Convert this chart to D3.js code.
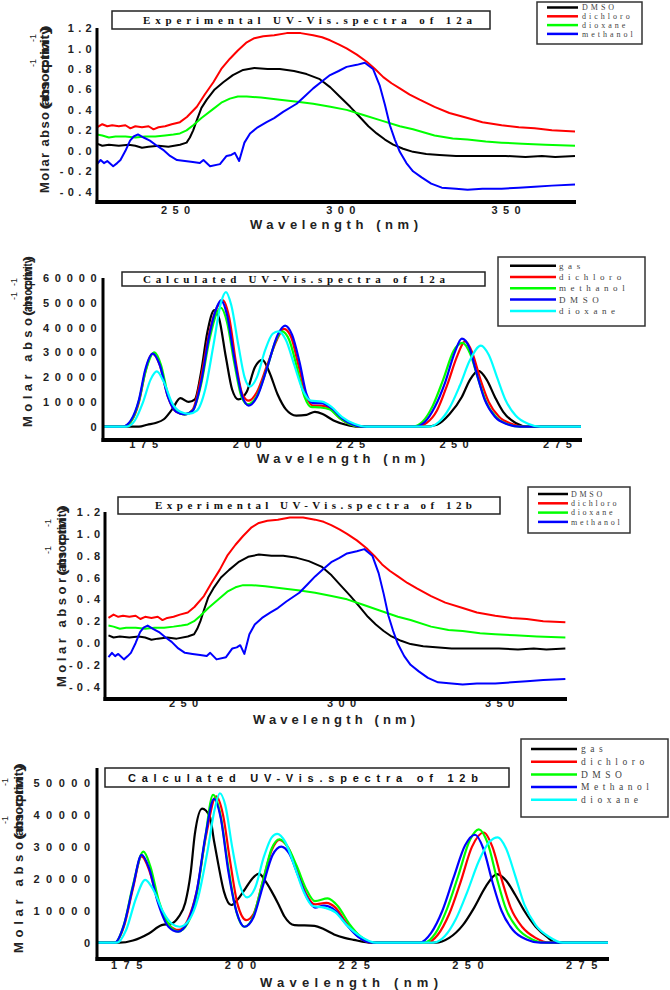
<!DOCTYPE html>
<html>
<head>
<meta charset="utf-8">
<script src="https://cdn.jsdelivr.net/npm/d3@7"></script>
<style>
  body { margin: 0; background: #fff; }
</style>
</head>
<body>
<div id="chart"></div>
<script>
// ---- experimental spectra (same measurement shown for 12a and 12b) ----
var expDMSO = [[226.4,0.07],[228,0.05],[230,0.06],[233,0.05],[236,0.06],[238,0.05],[240,0.03],[242,0.04],[245,0.05],[248,0.04],[251.5,0.06],[253.5,0.08],[254.5,0.13],[255.5,0.2],[256.6,0.3],[258,0.42],[259.6,0.5],[262,0.6],[264.6,0.67],[267.5,0.74],[270.6,0.79],[274,0.81],[278,0.8],[281.7,0.8],[286,0.78],[289.8,0.75],[293.8,0.7],[297,0.62],[299.8,0.53],[303,0.43],[305.9,0.33],[308.5,0.24],[311,0.17],[313.5,0.11],[316,0.06],[319,0.02],[322,-0.01],[326,-0.03],[330,-0.04],[335,-0.05],[342,-0.05],[350,-0.05],[356,-0.06],[361,-0.05],[365,-0.06],[371,-0.05]];
var expDichloro = [[226.4,0.23],[228,0.26],[229.5,0.24],[231,0.25],[233,0.24],[235,0.25],[236.5,0.22],[238,0.24],[240,0.23],[242,0.24],[243.5,0.21],[245,0.23],[247,0.24],[249,0.26],[251.5,0.28],[253.6,0.33],[256.6,0.43],[259,0.55],[261.6,0.67],[264,0.8],[266.6,0.9],[269,0.98],[271.7,1.06],[274,1.1],[276.7,1.12],[280,1.13],[283.8,1.15],[288,1.15],[291.8,1.13],[294.5,1.11],[296.9,1.08],[299.5,1.04],[301.9,1.0],[305,0.94],[308,0.87],[310.5,0.8],[313,0.72],[315.5,0.66],[318,0.61],[321,0.55],[324,0.5],[328.5,0.43],[333,0.37],[338.5,0.32],[343,0.28],[348.8,0.25],[354,0.23],[358.8,0.22],[364,0.2],[371,0.19]];
var expDioxane = [[226.4,0.16],[228,0.15],[230,0.13],[232,0.14],[235,0.14],[238,0.13],[241,0.14],[244,0.14],[247,0.15],[249.5,0.16],[251.5,0.17],[253.5,0.2],[255.5,0.25],[258,0.32],[261.6,0.41],[264,0.47],[266.6,0.51],[269,0.53],[271.7,0.53],[276,0.52],[281.7,0.5],[287,0.48],[291.8,0.46],[297,0.43],[301.9,0.4],[307,0.35],[312,0.3],[318,0.24],[322,0.21],[328.5,0.15],[334,0.12],[338.5,0.11],[344,0.09],[348.8,0.08],[355,0.07],[362,0.06],[371,0.05]];
var expMethanol = [[226.4,-0.13],[227.5,-0.09],[228.5,-0.12],[229.5,-0.1],[231.3,-0.15],[232.5,-0.12],[233.5,-0.09],[235,0.0],[236.4,0.1],[237.5,0.14],[238.8,0.16],[240.5,0.13],[242.4,0.1],[244.5,0.05],[246.4,0.01],[248.5,-0.05],[250.6,-0.09],[253,-0.1],[255.4,-0.11],[257.5,-0.12],[258.6,-0.09],[260.6,-0.15],[263.6,-0.13],[265.6,-0.05],[267,-0.04],[268.1,-0.02],[269.4,-0.1],[271,0.08],[272.7,0.17],[275,0.23],[277.7,0.28],[280,0.32],[282.7,0.38],[286.8,0.46],[289.5,0.54],[291.8,0.61],[294.5,0.68],[296.9,0.74],[299.5,0.78],[301.9,0.82],[305,0.84],[307.4,0.86],[309.9,0.8],[311.9,0.64],[313.5,0.45],[315,0.25],[316.5,0.11],[318,-0.01],[320,-0.12],[322,-0.2],[324.6,-0.26],[327.5,-0.32],[330.7,-0.36],[335,-0.37],[338.5,-0.38],[343,-0.37],[348.8,-0.37],[354,-0.36],[358.8,-0.35],[364,-0.34],[371,-0.33]];

// ---- calculated spectra 12a ----
var calcGas12a = [[165.3,0],[174,0],[176,800],[178,1500],[180,3000],[182,7000],[184,11500],[186,10000],[187.5,11000],[189,22000],[190.5,38000],[192.2,47000],[193.3,44000],[195,28000],[196.5,15000],[198,11000],[200,14000],[202,24000],[203.8,27000],[205.5,22000],[207.5,13000],[209.5,7000],[212,4500],[214.5,4800],[216.5,6000],[218.5,5000],[221,2500],[224,800],[227,0],[243,0],[246,800],[249,5000],[252,12000],[254,19000],[256,22500],[258,19000],[260,12000],[262,6000],[265,1500],[268,0],[280.8,0]];
var calcDichloro12a = [[165.3,0],[170,0],[172,2000],[174,10000],[175.5,22000],[177.3,29500],[179,25000],[181,12000],[183,6000],[185,5000],[187,7000],[189,20000],[191,38000],[192.8,48000],[194.3,51000],[195.8,44000],[197.5,25000],[199,13000],[200.5,10500],[202.5,14000],[205,25000],[207.3,35000],[209,39500],[210.8,36000],[212.5,25000],[214.5,12000],[216,8500],[218,8500],[220,7500],[222.5,3500],[225,1000],[227.5,0],[241,0],[243.5,1500],[246,6500],[248.5,17000],[251,29000],[252.8,34500],[254.5,30000],[256.5,19000],[258.5,10000],[261,4000],[264,1200],[267,0],[280.8,0]];
var calcMethanol12a = [[165.3,0],[170,0],[172,2000],[174,10500],[175.7,23000],[177.7,30000],[179.3,25000],[181,13000],[183,6500],[185,5000],[187,6500],[189,17000],[191,35000],[192.8,46000],[193.8,48000],[195.3,42000],[197,26000],[198.8,12000],[200.3,9000],[202.5,12500],[205,24000],[207,34500],[208.5,38500],[210.3,35000],[212,25000],[214,12000],[215.5,8000],[217.5,7800],[220,7000],[222.5,3500],[225,1000],[227.5,0],[240,0],[242.5,2000],[245,8500],[247.5,19000],[250,30500],[252.2,33800],[254,29500],[256,19000],[258,9500],[260.5,3500],[263.5,800],[266,0],[280.8,0]];
var calcDMSO12a = [[165.3,0],[170,0],[172,2500],[174,11000],[175.5,23000],[177.3,29500],[179,25000],[181,12000],[183,6000],[185,5000],[187,6500],[189,18000],[191,37000],[193,49000],[193.8,51000],[195.3,45000],[197,28000],[199,12000],[200.5,8500],[202.5,12000],[205,24000],[207.5,37000],[209.3,40800],[211,37000],[212.8,26000],[214.5,13000],[216,9500],[218,9500],[220.5,7500],[223,3500],[225.5,1000],[228,0],[240.5,0],[243,1800],[245.5,8000],[248,18000],[250.3,30000],[252,35500],[253.8,32000],[255.5,22000],[257.5,11000],[260,4000],[263,1000],[266,0],[280.8,0]];
var calcDioxane12a = [[165.3,0],[171,0],[173,2500],[175,10000],[176.8,19000],[178.3,22300],[180,18000],[182,9500],[184,6000],[186,5200],[188,6500],[190,15000],[192,33000],[193.8,50000],[195,54300],[196.3,49000],[198,33000],[199.5,20000],[200.8,16200],[202.5,20000],[204.5,31000],[206.3,37500],[207.7,38500],[209.5,35000],[211.5,25000],[213.5,15000],[215.5,10500],[218.2,10100],[220.5,8000],[223,4000],[226,1200],[229,0],[244,0],[246.5,2000],[249,7500],[251.5,16500],[254,27000],[256.6,32700],[258.5,29000],[260.5,20000],[262.5,11000],[265,4500],[268,1200],[271,0],[280.8,0]];

// ---- calculated spectra 12b ----
var calcGas12b = [[168.6,0],[173.5,0],[176.5,700],[180,2900],[182.8,5500],[185,6000],[186.5,8000],[188,12500],[189.2,22000],[190.1,34000],[191.7,42000],[193.4,39500],[194.3,32000],[195.2,25000],[196.5,16000],[198.1,11800],[199.5,13500],[201,16500],[203,20500],[204.2,21600],[205.5,19500],[207,16000],[208.5,12000],[209.8,8200],[212,5500],[216.4,5300],[218.5,4200],[220.7,2600],[223,1500],[225,900],[229,0],[243,0],[246,1500],[249,5500],[251.5,11000],[254,17500],[256.5,21500],[258.5,19500],[260.5,15000],[262.5,10000],[265,5000],[267.5,1800],[269.5,0],[280.9,0]];
var calcDichloro12b = [[168.6,0],[172.5,0],[174.5,5000],[176.5,17000],[178.4,27000],[180,23000],[182,13000],[184.5,5500],[186.5,4000],[188.5,7000],[190.5,16000],[192.5,33000],[194.8,45800],[196.3,40000],[197.8,26000],[199.5,12000],[201.4,7100],[203,9000],[205,19000],[207,29000],[208.7,32200],[210.5,30000],[212.5,23000],[214.5,15500],[216.5,12000],[219,12500],[221,11000],[223.5,6000],[226,2000],[229,0],[241,0],[243.5,2500],[246,9000],[248.5,19000],[251,30000],[253.6,34500],[255.5,30000],[257.5,20000],[259.5,11000],[262,5000],[265,1500],[268,0],[280.9,0]];
var calcDMSO12b = [[168.6,0],[172.5,0],[174.5,5500],[176.5,18000],[178.8,28500],[180.3,24000],[182.2,13000],[184.5,5500],[186.5,3500],[188.5,6000],[190.5,15000],[192.3,32000],[194.1,46300],[195.6,41000],[197.2,26000],[199,11000],[201,5000],[203,8500],[205,19000],[207,29500],[208.7,32400],[210.5,30000],[212.5,24000],[214.5,17000],[216.5,13000],[219.3,13900],[221.5,11500],[224,6000],[226.5,2000],[229.5,0],[240.5,0],[243,3000],[245.5,10500],[248,21000],[250.5,32000],[252.5,35500],[254.5,31000],[256.5,20000],[258.5,10500],[261,4500],[264,1200],[267,0],[280.9,0]];
var calcMethanol12b = [[168.6,0],[172.5,0],[174.5,5500],[176.5,17500],[178.4,27500],[180,23500],[182,12500],[184.3,5000],[186.4,3450],[188.5,6500],[190.5,16000],[192.5,34000],[194.3,45000],[195.8,39000],[197.5,22000],[199.3,9500],[201,5000],[203,8000],[205,17500],[207.2,27500],[209.1,30100],[210.8,28000],[212.8,21000],[214.8,14000],[216.5,11000],[218.5,11600],[221,10000],[223.5,5500],[226,1800],[229,0],[239.5,0],[242,3000],[244.5,10000],[247,20500],[249.5,30500],[251.7,33800],[253.5,29500],[255.5,19000],[257.5,10000],[260,4000],[263,1000],[266,0],[280.9,0]];
var calcDioxane12b = [[168.6,0],[173,0],[175,4000],[177.2,14000],[179.2,19700],[181,16500],[183,10000],[185,6000],[186.8,5000],[188.8,7000],[190.8,14000],[192.8,28000],[194.5,42000],[195.6,46800],[196.8,43000],[198.3,30000],[200,18000],[201.6,14200],[203.3,17000],[205.3,27000],[207,33000],[208.2,34100],[210,31500],[212,24000],[214,16000],[216,11500],[218.5,11000],[221,9500],[223.5,5500],[226.5,2000],[230,0],[242.5,0],[245,2000],[247.5,7500],[250,16000],[252.5,25500],[254.8,31500],[256.7,33000],[258.5,29500],[260.5,21000],[262.5,12000],[265,5500],[268,1800],[271,0],[280.9,0]];

// ---- ticks and labels ----
var expYTicks = [-0.4, -0.2, 0.0, 0.2, 0.4, 0.6, 0.8, 1.0, 1.2];
var expXTicks = [250, 300, 350];
var calc12aYTicks = [0, 10000, 20000, 30000, 40000, 50000, 60000];
var calc12bYTicks = [0, 10000, 20000, 30000, 40000, 50000];
var calcXTicks = [175, 200, 225, 250, 275];
var expLegend = ["DMSO", "dichloro", "dioxane", "methanol"];
var calc12aLegend = ["gas", "dichloro", "methanol", "DMSO", "dioxane"];
var calc12bLegend = ["gas", "dichloro", "DMSO", "Methanol", "dioxane"];

var BLACK = "#000000", RED = "#ff0000", GREEN = "#00ff00", BLUE = "#0000ff", CYAN = "#00ffff";

var svg = d3.select("#chart").append("svg")
    .attr("width", 670)
    .attr("height", 990)
    .style("background", "#fff");

var panels = [
    {
        title: "Experimental UV-Vis.spectra of 12a", titleFont: "Liberation Serif",
        box: [112, 11, 490, 29], titleText: [143, 472, 24],
        left: 97, right: 575, top: 28, bottom: 202,
        xd: [226.4, 371], yd: [-0.5, 1.2],
        xTicks: expXTicks, yTicks: expYTicks, fmt: "exp",
        yls: 4.3, ypad: 1, xls: 5.3, xpad: 4,
        series: [expDMSO, expDichloro, expDioxane, expMethanol],
        colors: [BLACK, RED, GREEN, BLUE], curve: d3.curveLinear, lw: 2,
        legend: expLegend, leg: {box: [537, 2, 642, 44], y0: 7.5, dy: 8.8, x1: 547, x2: 578, tx: 582, fs: 8, ls: 3.0},
        xTitle: [250, 418, 229],
        yTitle: {cx: 44, bottom: 193, split: 112, top: 25, supX: 33, supY: [63, 38], a: "Molar abso"}
    },
    {
        title: "Calculated UV-Vis.spectra of 12a", titleFont: "Liberation Serif",
        box: [122, 272, 485, 286], titleText: [143, 445, 283],
        left: 103, right: 581, top: 278, bottom: 440,
        xd: [165.3, 280.8], yd: [-5370, 60000],
        xTicks: calcXTicks, yTicks: calc12aYTicks, fmt: "calc",
        yls: 5.8, ypad: 0.5, xls: 5.3, xpad: 0.5,
        series: [calcGas12a, calcDichloro12a, calcMethanol12a, calcDMSO12a, calcDioxane12a],
        colors: [BLACK, RED, GREEN, BLUE, CYAN], curve: d3.curveMonotoneX, lw: 2.2,
        legend: calc12aLegend, leg: {box: [498, 257, 645, 326], y0: 265.7, dy: 11.3, x1: 510, x2: 556, tx: 559, fs: 9, ls: 4.6},
        xTitle: [257, 425, 463],
        yTitle: {cx: 27, bottom: 427, split: 318, top: 256, supX: 14, supY: [296, 282], a: "Molar abso"}
    },
    {
        title: "Experimental UV-Vis.spectra of 12b", titleFont: "Liberation Serif",
        box: [118, 497, 500, 514], titleText: [155, 472, 509],
        left: 105, right: 566, top: 512, bottom: 699,
        xd: [225.3, 371.2], yd: [-0.513, 1.2],
        xTicks: expXTicks, yTicks: expYTicks, fmt: "exp",
        yls: 4.0, ypad: 1, xls: 5.3, xpad: 0.5,
        series: [expDMSO, expDichloro, expDioxane, expMethanol],
        colors: [BLACK, RED, GREEN, BLUE], curve: d3.curveLinear, lw: 2,
        legend: expLegend, leg: {box: [528, 487, 630, 533], y0: 494, dy: 9.3, x1: 538, x2: 568, tx: 571, fs: 8, ls: 2.7},
        xTitle: [253, 415, 724],
        yTitle: {cx: 61, bottom: 687, split: 578, top: 505, supX: 48, supY: [550, 523], a: "Molar absor"}
    },
    {
        title: "Calculated UV-Vis.spectra of 12b", titleFont: "Liberation Sans",
        box: [105, 768, 509, 787], titleText: [128, 478, 782],
        left: 97, right: 608, top: 768, bottom: 959,
        xd: [168.6, 280.9], yd: [-5100, 54700],
        xTicks: calcXTicks, yTicks: calc12bYTicks, fmt: "calc",
        yls: 6.5, ypad: 0.5, xls: 6.5, xpad: 2,
        series: [calcGas12b, calcDichloro12b, calcDMSO12b, calcMethanol12b, calcDioxane12b],
        colors: [BLACK, RED, GREEN, BLUE, CYAN], curve: d3.curveMonotoneX, lw: 2.2,
        legend: calc12bLegend, leg: {box: [521, 739, 668, 817], y0: 749, dy: 12.7, x1: 531, x2: 577, tx: 581, fs: 9.5, ls: 4.5},
        xTitle: [260, 438, 987],
        yTitle: {cx: 18, bottom: 953, split: 842, top: 763, supX: 5, supY: [820, 782], a: "Molar abso"}
    }
];

panels.forEach(function(p) {
    var g = svg.append("g");

    var x = d3.scaleLinear().domain(p.xd).range([p.left, p.right]);
    var y = d3.scaleLinear().domain(p.yd).range([p.bottom, p.top]);

    var line = d3.line()
        .curve(p.curve)
        .x(function(d) { return x(d[0]); })
        .y(function(d) { return y(d[1]); });

    // spectra
    p.series.forEach(function(s, i) {
        g.append("path")
            .datum(s)
            .attr("fill", "none")
            .attr("stroke", p.colors[i])
            .attr("stroke-width", p.lw)
            .attr("stroke-linejoin", "round")
            .attr("d", line);
    });

    // axes
    var fmt = p.fmt == "exp"
        ? function(d) { return d3.format(".1f")(d).replace("\u2212", "-"); }
        : d3.format("d");

    var yAxis = g.append("g")
        .attr("transform", "translate(" + p.left + ",0)")
        .call(d3.axisLeft(y).tickValues(p.yTicks).tickSize(0).tickPadding(p.ypad).tickFormat(fmt));
    yAxis.select(".domain").remove();
    yAxis.selectAll("text")
        .attr("font-family", "Liberation Sans, Arial, sans-serif")
        .attr("font-weight", "bold")
        .attr("font-size", 11)
        .attr("fill", "#222")
        .style("letter-spacing", p.yls + "px");

    var xAxis = g.append("g")
        .attr("transform", "translate(0," + p.bottom + ")")
        .call(d3.axisBottom(x).tickValues(p.xTicks).tickSize(0).tickPadding(p.xpad));
    xAxis.select(".domain").remove();
    xAxis.selectAll("text")
        .attr("font-family", "Liberation Sans, Arial, sans-serif")
        .attr("font-weight", "bold")
        .attr("font-size", 11)
        .attr("fill", "#222")
        .attr("dx", (p.xls / 2) + "px")
        .style("letter-spacing", p.xls + "px");

    g.append("line")
        .attr("x1", p.left).attr("x2", p.left)
        .attr("y1", p.top).attr("y2", p.bottom + 2)
        .attr("stroke", "#000").attr("stroke-width", 3);
    g.append("line")
        .attr("x1", p.left - 1.5).attr("x2", p.right + 1)
        .attr("y1", p.bottom).attr("y2", p.bottom)
        .attr("stroke", "#000").attr("stroke-width", 4);

    // title box
    g.append("rect")
        .attr("x", p.box[0]).attr("y", p.box[1])
        .attr("width", p.box[2] - p.box[0]).attr("height", p.box[3] - p.box[1])
        .attr("fill", "#fff").attr("stroke", "#222").attr("stroke-width", 1.5);
    g.append("text")
        .attr("x", p.titleText[0]).attr("y", p.titleText[2])
        .attr("textLength", p.titleText[1] - p.titleText[0])
        .attr("lengthAdjust", "spacing")
        .attr("font-family", p.titleFont)
        .attr("font-weight", "bold")
        .attr("font-size", 11)
        .attr("fill", "#111")
        .text(p.title);

    // legend
    var L = p.leg;
    g.append("rect")
        .attr("x", L.box[0]).attr("y", L.box[1])
        .attr("width", L.box[2] - L.box[0]).attr("height", L.box[3] - L.box[1])
        .attr("fill", "#fff").attr("stroke", "#333").attr("stroke-width", 1.5);
    p.legend.forEach(function(name, i) {
        var yy = L.y0 + i * L.dy;
        g.append("line")
            .attr("x1", L.x1).attr("x2", L.x2)
            .attr("y1", yy).attr("y2", yy)
            .attr("stroke", p.colors[i]).attr("stroke-width", 2.5);
        g.append("text")
            .attr("x", L.tx).attr("y", yy + L.fs * 0.33)
            .attr("font-family", "Liberation Serif, serif")
            .attr("font-size", L.fs)
            .attr("fill", "#444")
            .style("letter-spacing", L.ls + "px")
            .text(name);
    });

    // x title
    g.append("text")
        .attr("x", p.xTitle[0]).attr("y", p.xTitle[2])
        .attr("textLength", p.xTitle[1] - p.xTitle[0])
        .attr("lengthAdjust", "spacing")
        .attr("font-family", "Liberation Sans, Arial, sans-serif")
        .attr("font-weight", "bold")
        .attr("font-size", 13)
        .attr("fill", "#222")
        .text("Wavelength (nm)");

    // y title (overlapping text as in the source figure)
    var T = p.yTitle;
    var yt = g.append("g")
        .attr("transform", "translate(" + T.cx + "," + T.bottom + ") rotate(-90)");
    yt.append("text")
        .attr("x", 0).attr("y", 4.5)
        .attr("textLength", T.bottom - T.split)
        .attr("lengthAdjust", "spacing")
        .attr("font-family", "Liberation Sans, Arial, sans-serif")
        .attr("font-weight", "bold").attr("font-size", 13).attr("fill", "#222")
        .text(T.a);
    yt.append("text")
        .attr("x", T.bottom - T.split + 2).attr("y", 4.5)
        .attr("textLength", T.split - T.top - 2)
        .attr("lengthAdjust", "spacingAndGlyphs")
        .attr("font-family", "Liberation Sans, Arial, sans-serif")
        .attr("font-weight", "bold").attr("font-size", 13).attr("fill", "#222")
        .text("(m   cm   )");
    yt.append("text")
        .attr("x", T.bottom - T.split + 6).attr("y", 4.5)
        .attr("textLength", T.split - T.top - 8)
        .attr("lengthAdjust", "spacingAndGlyphs")
        .attr("font-family", "Liberation Sans, Arial, sans-serif")
        .attr("font-weight", "bold").attr("font-size", 13).attr("fill", "#222")
        .text("absorptivity");
    T.supY.forEach(function(sy) {
        g.append("text")
            .attr("transform", "translate(" + T.supX + "," + sy + ") rotate(-90)")
            .attr("text-anchor", "middle")
            .attr("y", 3)
            .attr("font-family", "Liberation Sans, Arial, sans-serif")
            .attr("font-size", 9).attr("fill", "#222")
            .text("-1");
    });
});
</script>
</body>
</html>
